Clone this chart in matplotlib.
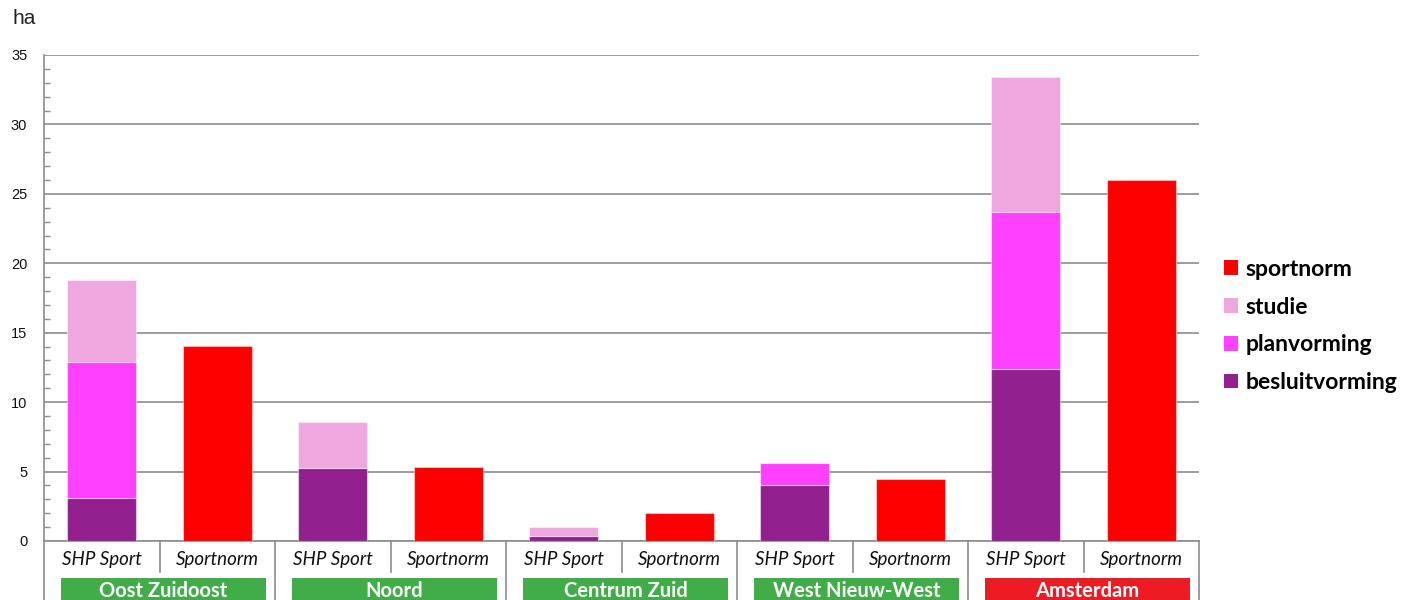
import matplotlib
matplotlib.use("Agg")
import matplotlib.pyplot as plt
from matplotlib.patches import Rectangle, Patch
from matplotlib.transforms import blended_transform_factory
from matplotlib.ticker import MultipleLocator

# ---- data ----
groups = ["Oost Zuidoost", "Noord", "Centrum Zuid", "West Nieuw-West", "Amsterdam"]
bar_labels = ["SHP Sport", "Sportnorm"]
besluitvorming = [3.12, 5.28, 0.38, 4.06, 12.39]
planvorming = [9.77, 0.0, 0.0, 1.56, 11.32]
studie = [5.91, 3.31, 0.61, 0.0, 9.68]
sportnorm = [14.04, 5.31, 2.02, 4.46, 25.97]
group_colors = ["#41ad49", "#41ad49", "#41ad49", "#41ad49", "#ed1c24"]

c_besluit = "#93208f"
c_plan = "#ff40ff"
c_studie = "#eea8df"
c_norm = "#ff0000"

W, H = 1405, 600
fig = plt.figure(figsize=(W / 100, H / 100), dpi=100)
ax = fig.add_axes([44 / W, (H - 541) / H, (1199 - 44) / W, (541 - 55) / H])

n = len(groups)
x_shp = [2 * i for i in range(n)]
x_norm = [2 * i + 1 for i in range(n)]
bw = 0.6
edge = dict(edgecolor=(1, 1, 1, 0.45), linewidth=0.8)

b1 = besluitvorming
b2 = [a + b for a, b in zip(besluitvorming, planvorming)]
ax.bar(x_shp, besluitvorming, bw, color=c_besluit, **edge, zorder=3)
ax.bar(x_shp, planvorming, bw, bottom=b1, color=c_plan, **edge, zorder=3)
ax.bar(x_shp, studie, bw, bottom=b2, color=c_studie, **edge, zorder=3)
ax.bar(x_norm, sportnorm, bw, color=c_norm, **edge, zorder=3)

ax.set_xlim(-0.5, 2 * n - 0.5)
ax.set_ylim(0, 35)
ax.yaxis.set_major_locator(MultipleLocator(5))
ax.yaxis.set_minor_locator(MultipleLocator(1))
ax.grid(axis="y", which="major", color="#8c8c8c", linewidth=1.2, zorder=0)
ax.set_axisbelow(True)
for s in ["top", "right", "bottom"]:
    ax.spines[s].set_visible(False)
ax.spines["left"].set_color("#8c8c8c")
ax.spines["left"].set_linewidth(1.2)
ax.tick_params(axis="y", which="major", direction="in", length=0, labelsize=10.5,
               pad=12, colors="#8c8c8c", labelcolor="#111111")
ax.tick_params(axis="y", which="minor", direction="in", length=4, width=1, colors="#8c8c8c")
ax.tick_params(axis="x", length=0, labelbottom=False)
for t in ax.get_yticklabels():
    t.set_fontfamily("Liberation Sans")

fig.text(12 / W, (H - 19) / H, "ha", fontsize=15, family="Liberation Sans",
         color="#222222", va="center", ha="left")

# ---- category axis below ----
tr = blended_transform_factory(ax.transData, fig.transFigure)
line_kw = dict(color="#8c8c8c", linewidth=1.2, clip_on=False, transform=tr)
y_axis = (H - 541) / H
y_inner = (H - 572) / H
ax.plot([-0.5, 2 * n - 0.5], [y_axis, y_axis], **line_kw)
for k in range(2 * n + 1):
    xb = k - 0.5
    y_end = 0 if k % 2 == 0 else y_inner
    ax.plot([xb, xb], [y_axis, y_end], **line_kw)

y_lab = (H - 560) / H
for i in range(n):
    for j, lbl in enumerate(bar_labels):
        ax.text(2 * i + j, y_lab, lbl, transform=tr, ha="center", va="center",
                fontsize=13.5, style="italic", family="Lato", color="#111111")
    x0 = 2 * i - 0.5 + 0.147
    x1 = 2 * i + 1.5 - 0.078
    rect = Rectangle((x0, -0.02), x1 - x0, (H - 578) / H + 0.02, transform=tr,
                     facecolor=group_colors[i], edgecolor="none", clip_on=False)
    ax.add_patch(rect)
    ax.text((x0 + x1) / 2, (H - 591) / H, groups[i], transform=tr, ha="center",
            va="center", fontsize=14.5, family="Lato", fontweight="bold", color="white")

# ---- legend ----
handles = [Patch(facecolor=c_norm, label="sportnorm"),
           Patch(facecolor=c_studie, label="studie"),
           Patch(facecolor=c_plan, label="planvorming"),
           Patch(facecolor=c_besluit, label="besluitvorming")]
leg = fig.legend(handles=handles, loc="center left",
                 bbox_to_anchor=(1203 / W, (H - 326) / H),
                 frameon=False, handlelength=0.62, handleheight=0.62,
                 handletextpad=0.35, labelspacing=0.73,
                 prop=dict(family="Lato", weight="bold", size=16.5))

fig.savefig("out.png", dpi=100)
